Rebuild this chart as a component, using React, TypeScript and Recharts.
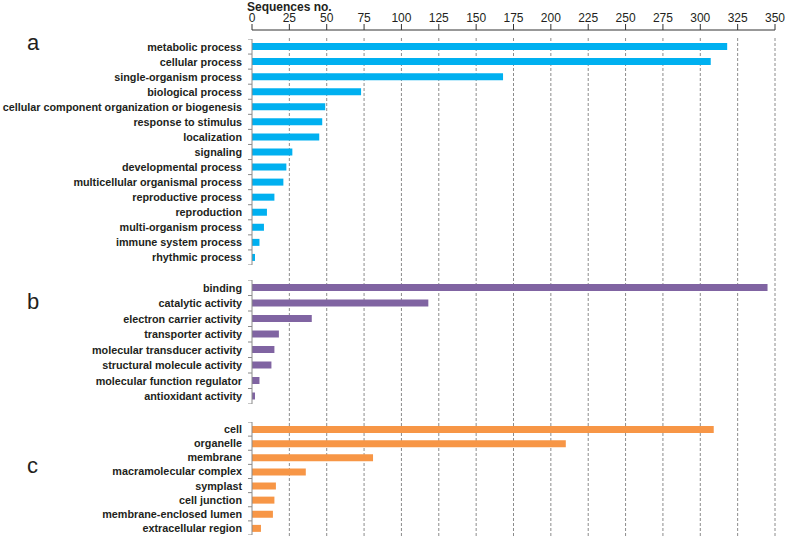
import React from "react";
import { BarChart, Bar, XAxis, YAxis, CartesianGrid } from "recharts";

const FONT = '"Liberation Sans", Arial, sans-serif';

const xTicks = [0, 25, 50, 75, 100, 125, 150, 175, 200, 225, 250, 275, 300, 325, 350];
const gridValues = xTicks.filter((t) => t > 0);

const bioNames = [
    "metabolic process",
    "cellular process",
    "single-organism process",
    "biological process",
    "cellular component organization or biogenesis",
    "response to stimulus",
    "localization",
    "signaling",
    "developmental process",
    "multicellular organismal process",
    "reproductive process",
    "reproduction",
    "multi-organism process",
    "immune system process",
    "rhythmic process",
];
const bioValues = [318, 307, 168, 73, 49, 47, 45, 27, 23, 21, 15, 10, 8, 5, 2];

const molNames = [
    "binding",
    "catalytic activity",
    "electron carrier activity",
    "transporter activity",
    "molecular transducer activity",
    "structural molecule activity",
    "molecular function regulator",
    "antioxidant activity",
];
const molValues = [345, 118, 40, 18, 15, 13, 5, 2];

const cellNames = [
    "cell",
    "organelle",
    "membrane",
    "macramolecular complex",
    "symplast",
    "cell junction",
    "membrane-enclosed lumen",
    "extracellular region",
];
const cellValues = [309, 210, 81, 36, 16, 15, 14, 6];

const toRows = (names: string[], values: number[]) =>
    names.map((name, i) => ({ name, value: values[i] }));

const bioRows = toRows(bioNames, bioValues);
const molRows = toRows(molNames, molValues);
const cellRows = toRows(cellNames, cellValues);

const W = 787;
const AXIS_LEFT = 252;
const RIGHT = 12;

function makeTick(band: number, count: number) {
    return (props: any) => {
        const { x, y, payload, index } = props;
        const ax = x + 10;
        const half = band / 2;
        return (
            <g>
                <text
                    x={x}
                    y={y}
                    dy={4}
                    textAnchor="end"
                    fontFamily={FONT}
                    fontSize={10.8}
                    fontWeight="bold"
                    fill="#231f20"
                >
                    {payload.value}
                </text>
                <line x1={ax - 4} x2={ax} y1={y - half} y2={y - half} stroke="#8a8a8a" />
                {index === count - 1 && (
                    <line x1={ax - 4} x2={ax} y1={y + half} y2={y + half} stroke="#8a8a8a" />
                )}
            </g>
        );
    };
}

function Group({
    rows,
    top,
    height,
    color,
    barSize,
}: {
    rows: { name: string; value: number }[];
    top: number;
    height: number;
    color: string;
    barSize: number;
}) {
    return (
        <div style={{ position: "absolute", left: 0, top }}>
            <BarChart
                width={W}
                height={height}
                data={rows}
                layout="vertical"
                margin={{ top: 0, right: RIGHT, bottom: 0, left: 0 }}
            >
                <XAxis type="number" domain={[0, 350]} allowDataOverflow hide />
                <YAxis
                    type="category"
                    dataKey="name"
                    width={AXIS_LEFT}
                    interval={0}
                    tickLine={false}
                    tickSize={4}
                    tickMargin={6}
                    axisLine={{ stroke: "#8a8a8a" }}
                    tick={makeTick(height / rows.length, rows.length)}
                />
                <Bar dataKey="value" fill={color} barSize={barSize} isAnimationActive={false} />
            </BarChart>
        </div>
    );
}

export default function App() {
    return (
        <div
            style={{
                position: "absolute",
                left: 0,
                top: 0,
                width: W,
                height: 537,
                background: "#fff",
                fontFamily: FONT,
            }}
        >
            <div style={{ position: "absolute", left: 0, top: 0 }}>
                <BarChart
                    width={W}
                    height={537}
                    data={bioRows}
                    layout="vertical"
                    margin={{ top: 0, right: RIGHT, bottom: 0, left: AXIS_LEFT }}
                >
                    <CartesianGrid
                        horizontal={false}
                        verticalValues={gridValues}
                        y={38}
                        height={499}
                        stroke="#8c8c8c"
                        strokeDasharray="3 2"
                    />
                    <XAxis
                        type="number"
                        dataKey="value"
                        orientation="top"
                        domain={[0, 350]}
                        allowDataOverflow
                        ticks={xTicks}
                        interval={0}
                        height={30}
                        tickSize={6}
                        tickMargin={2}
                        axisLine={{ stroke: "#333" }}
                        tickLine={{ stroke: "#333" }}
                        tick={{ fontSize: 12, fill: "#231f20", fontFamily: FONT }}
                    />
                    <YAxis type="category" dataKey="name" hide />
                </BarChart>
            </div>
            <div
                style={{
                    position: "absolute",
                    left: 247,
                    top: 0,
                    fontSize: 12,
                    lineHeight: "14px",
                    fontWeight: "bold",
                    color: "#231f20",
                }}
            >
                Sequences no.
            </div>
            <div style={{ position: "absolute", left: 27, top: 30, fontSize: 22, color: "#231f20" }}>a</div>
            <div style={{ position: "absolute", left: 27, top: 289, fontSize: 22, color: "#231f20" }}>b</div>
            <div style={{ position: "absolute", left: 27, top: 453, fontSize: 22, color: "#231f20" }}>c</div>
            <Group rows={bioRows} top={39} height={226} color="#00b0f0" barSize={7} />
            <Group rows={molRows} top={280} height={124} color="#8064a2" barSize={7} />
            <Group rows={cellRows} top={422} height={113} color="#f79646" barSize={7} />
        </div>
    );
}
